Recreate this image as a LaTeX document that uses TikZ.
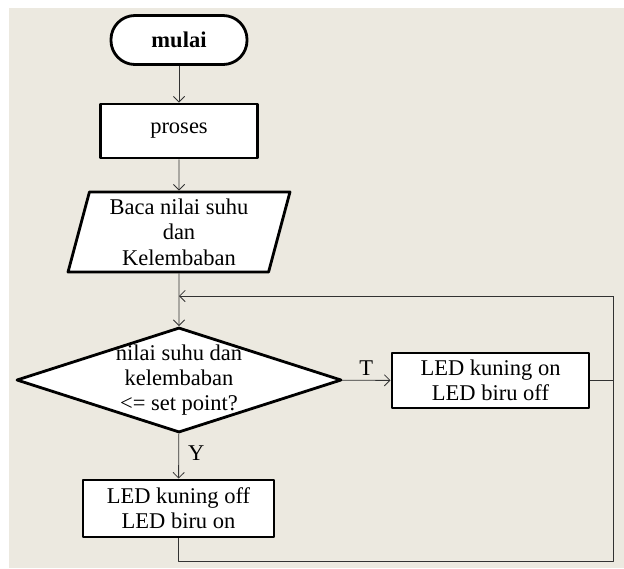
\documentclass[tikz,border=0pt]{standalone}
\usepackage{fontspec}
\setmainfont{Liberation Serif}
\usetikzlibrary{shapes.geometric,arrows.meta}
\definecolor{latar}{RGB}{236,233,224}
\definecolor{garis}{RGB}{50,50,50}
\begin{document}
\begin{tikzpicture}[x=0.025cm,y=-0.025cm,>={Straight Barb[length=4pt,width=8pt]}, font=\fontsize{16}{18}\selectfont, line join=round]
	\tikzset{kotak/.style={draw,line width=2pt,fill=white,inner sep=0pt},
		panah/.style={->,draw=garis,line width=0.6pt}}
	\useasboundingbox (0,0) rectangle (624,568);
	\fill[latar] (9,8) rectangle (624,568); % latar belakang
	\node[kotak,rounded corners=0.6cm,minimum width=3.4cm,minimum height=1.225cm,font=\fontsize{16}{18}\selectfont\bfseries] (mulai) at (179,40) {mulai};
	\node[kotak,minimum width=3.925cm,minimum height=1.35cm] (proses) at (179,131) {proses};
	\node[kotak,trapezium,trapezium left angle=76,trapezium right angle=104,trapezium stretches=true,minimum width=5.55cm,minimum height=2cm,align=center] (baca) at (179,232) {Baca nilai suhu\\dan\\Kelembaban};
	\node[kotak,diamond,minimum width=8.125cm,minimum height=2.625cm] (cek) at (179,380) {};
	\node[align=center] at (cek) {nilai suhu dan\\kelembaban\\<= set point?};
	\node[kotak,minimum width=4.925cm,minimum height=1.375cm,align=center] (kuning) at (490.5,380.5) {LED kuning on\\LED biru off};
	\node[kotak,minimum width=4.775cm,minimum height=1.425cm,align=center] (biru) at (178.5,508.5) {LED kuning off\\LED biru on};
	\coordinate (pojok) at (613,561);
	\coordinate (atas) at (613,296);
	\coordinate (temu) at (179,296);
	\draw[panah] (mulai) -- (proses);
	\draw[panah] (proses) -- (baca);
	\draw[panah] (baca) -- (cek);
	\draw[panah] (cek) -- node[above,pos=0.5,text=black] {T} (kuning);
	\draw[panah] (cek) -- node[right,pos=0.42,xshift=3pt,text=black] {Y} (biru);
	\draw[garis,line width=0.6pt] (kuning) -- (kuning -| pojok);
	\draw[garis,line width=0.6pt] (biru) -- (biru |- pojok) -- (pojok) -- (atas);
	\draw[panah] (atas) -- (temu);
\end{tikzpicture}
\end{document}
